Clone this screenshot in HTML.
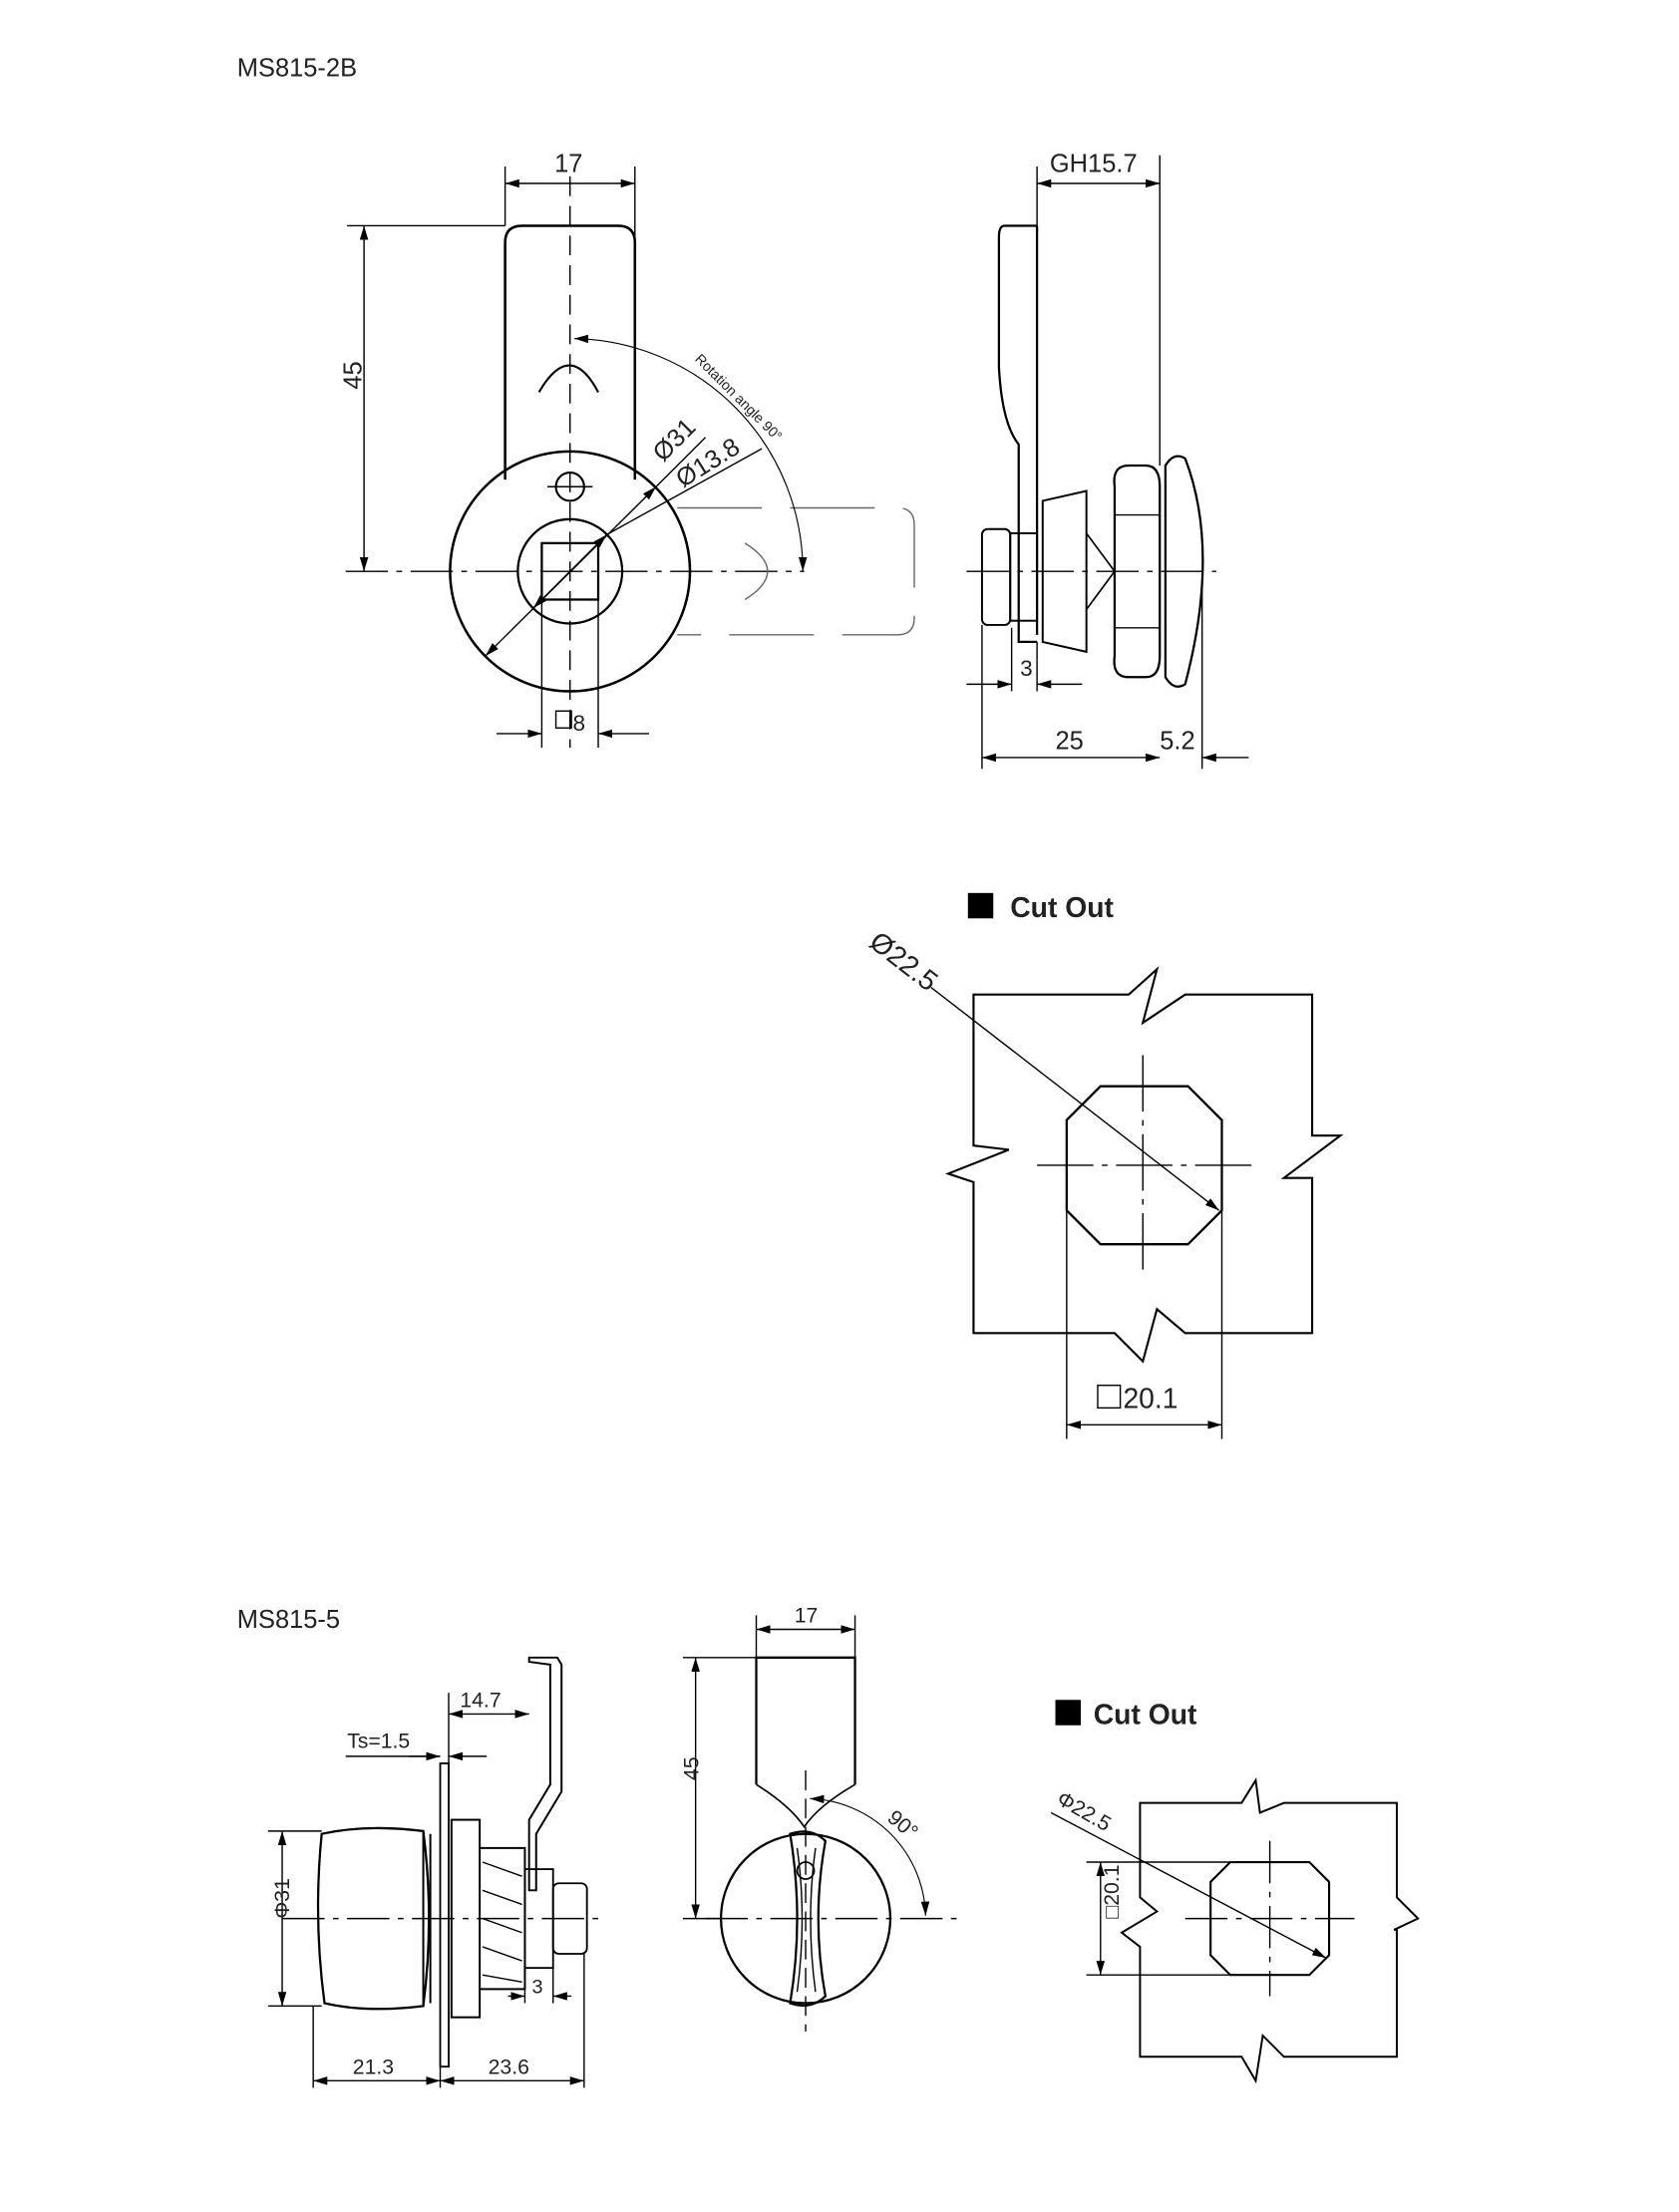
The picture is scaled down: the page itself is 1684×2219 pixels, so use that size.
<!DOCTYPE html>
<html><head><meta charset="utf-8"><style>
html,body{margin:0;padding:0;background:#fff}
svg{display:block}
text{font-family:"Liberation Sans",sans-serif;fill:#222}
</style></head><body>
<svg width="1684" height="2219" viewBox="0 0 1190 1568" xmlns="http://www.w3.org/2000/svg">
<defs>
<marker id="a" markerWidth="10" markerHeight="6" refX="10" refY="3" orient="auto-start-reverse" markerUnits="userSpaceOnUse"><path d="M0,0 L10,3 L0,6z" fill="#000"/></marker>
</defs>
<g fill="none" stroke="#000" stroke-width="1">
<path d="M358,340 V172 Q358,160 370,160 H438 Q450,160 450,172 V340" stroke-width="1.8"/>
<circle cx="404" cy="405" r="85" stroke-width="1.8"/>
<circle cx="404" cy="405" r="37" stroke-width="1.6"/>
<rect x="384" y="385" width="40" height="40" stroke-width="1.6"/>
<circle cx="404" cy="345" r="10" stroke-width="1.5"/>
<line x1="388" y1="345" x2="420" y2="345"/>
<path d="M382,278 Q404,240 424,278" stroke-width="1.5"/>
<line x1="404" y1="125" x2="404" y2="530" stroke-dasharray="14,7"/>
<line x1="245" y1="405" x2="570" y2="405" stroke-dasharray="30,6,4,6"/>
<path d="M480,360 H636 Q648,360 648,372 V438 Q648,450 636,450 H480" stroke="#666" stroke-dasharray="60,20"/>
<path d="M528,385 Q560,405 528,425" stroke="#666"/>
<path d="M407,240 A165,165 0 0 1 569,405" marker-start="url(#a)" marker-end="url(#a)" stroke-width="0.8"/>
<line x1="344" y1="465" x2="465" y2="345" marker-start="url(#a)" marker-end="url(#a)"/>
<line x1="465" y1="345" x2="500" y2="310"/>
<line x1="378" y1="431" x2="430" y2="379" marker-start="url(#a)" marker-end="url(#a)"/>
<line x1="430" y1="379" x2="540" y2="318"/>
<line x1="358" y1="118" x2="358" y2="160"/><line x1="450" y1="118" x2="450" y2="200"/>
<line x1="358" y1="130" x2="450" y2="130" marker-start="url(#a)" marker-end="url(#a)"/>
<line x1="246" y1="160" x2="358" y2="160"/>
<line x1="258" y1="160" x2="258" y2="405" marker-start="url(#a)" marker-end="url(#a)"/>
<line x1="384" y1="425" x2="384" y2="530"/><line x1="424" y1="425" x2="424" y2="530"/>
<line x1="352" y1="520" x2="384" y2="520" marker-end="url(#a)"/>
<line x1="460" y1="520" x2="424" y2="520" marker-end="url(#a)"/>
<path d="M735,160 V450 M735,160 H712 Q708,160 708,168 V260 Q710,300 722,315 V455 H735" stroke-width="1.6"/>
<rect x="716" y="378" width="19" height="62" stroke-width="1.4"/>
<rect x="696" y="375" width="20" height="68" rx="4" stroke-width="1.4"/>
<path d="M739,355 L770,348 V462 L739,455 Z" stroke-width="1.4"/>
<path d="M770,378 L790,405 L770,432" stroke-width="1.2"/>
<path d="M790,345 Q788,330 800,330 H812 Q822,330 822,345 V465 Q822,480 812,480 H800 Q788,480 790,465 Z" stroke-width="1.6"/>
<line x1="790" y1="365" x2="822" y2="365"/><line x1="790" y1="445" x2="822" y2="445"/>
<path d="M826,330 Q832,320 840,325 Q865,390 840,485 Q832,490 826,480 Z" stroke-width="1.6"/>
<line x1="685" y1="405" x2="862" y2="405" stroke-dasharray="30,6,4,6"/>
<line x1="735" y1="118" x2="735" y2="160"/><line x1="822" y1="110" x2="822" y2="330"/>
<line x1="735" y1="130" x2="822" y2="130" marker-start="url(#a)" marker-end="url(#a)"/>
<line x1="717" y1="445" x2="717" y2="490"/><line x1="735" y1="455" x2="735" y2="490"/>
<line x1="685" y1="485" x2="717" y2="485" marker-end="url(#a)"/>
<line x1="767" y1="485" x2="735" y2="485" marker-end="url(#a)"/>
<line x1="696" y1="443" x2="696" y2="545"/><line x1="852" y1="405" x2="852" y2="545"/>
<line x1="696" y1="537" x2="822" y2="537" marker-start="url(#a)" marker-end="url(#a)"/>
<line x1="885" y1="537" x2="852" y2="537" marker-end="url(#a)"/>
<path d="M690,705 H800 L820,687 L810,725 L840,705 H930 V805 L950,805 L910,835 L930,835 V945 H840 L820,928 L810,965 L790,945 H690 V838 L672,832 L715,815 L690,812 Z" stroke-width="1.5"/>
<path d="M780,770 H842 L866,794 V858 L842,882 H780 L756,858 V794 Z" stroke-width="1.6"/>
<line x1="735" y1="826" x2="888" y2="826" stroke-dasharray="40,6,4,6"/>
<line x1="810" y1="748" x2="810" y2="905" stroke-dasharray="40,6,4,6"/>
<line x1="660" y1="700" x2="864" y2="858" marker-end="url(#a)"/>
<line x1="756" y1="858" x2="756" y2="1020"/><line x1="866" y1="858" x2="866" y2="1020"/>
<line x1="756" y1="1010" x2="866" y2="1010" marker-start="url(#a)" marker-end="url(#a)"/>
<path d="M228,1300 Q222,1360 230,1420 Q260,1427 300,1422 Q308,1360 300,1298 Q260,1293 228,1300 Z" stroke-width="1.6"/>
<path d="M300,1298 V1422 M305,1300 V1420" stroke-width="1.4"/>
<rect x="312" y="1250" width="6" height="215" stroke-width="1.3"/>
<rect x="320" y="1290" width="20" height="140" stroke-width="1.4"/>
<path d="M340,1310 H372 V1410 H340" stroke-width="1.4"/>
<path d="M342,1320 L370,1330 M342,1340 L370,1350 M342,1360 L370,1370 M342,1380 L370,1390 M342,1400 L370,1405"/>
<rect x="372" y="1325" width="20" height="70" stroke-width="1.3"/>
<rect x="392" y="1335" width="24" height="50" rx="4" stroke-width="1.3"/>
<path d="M375,1175 H395 L398,1180 V1270 L380,1300 V1340 L375,1340 V1290 L390,1265 V1180 L375,1178 Z" stroke-width="1.4"/>
<line x1="200" y1="1360" x2="430" y2="1360" stroke-dasharray="30,6,4,6"/>
<line x1="190" y1="1298" x2="228" y2="1298"/><line x1="190" y1="1422" x2="228" y2="1422"/>
<line x1="200" y1="1298" x2="200" y2="1422" marker-start="url(#a)" marker-end="url(#a)"/>
<line x1="222" y1="1422" x2="222" y2="1480"/><line x1="312" y1="1465" x2="312" y2="1480"/><line x1="414" y1="1385" x2="414" y2="1480"/>
<line x1="222" y1="1475" x2="312" y2="1475" marker-start="url(#a)" marker-end="url(#a)"/>
<line x1="312" y1="1475" x2="414" y2="1475" marker-start="url(#a)" marker-end="url(#a)"/>
<line x1="318" y1="1200" x2="318" y2="1250"/>
<line x1="318" y1="1215" x2="375" y2="1215" marker-start="url(#a)" marker-end="url(#a)"/>
<line x1="290" y1="1245" x2="312" y2="1245" marker-end="url(#a)"/>
<line x1="245" y1="1245" x2="312" y2="1245"/>
<line x1="345" y1="1245" x2="318" y2="1245" marker-end="url(#a)"/>
<line x1="372" y1="1395" x2="372" y2="1420"/><line x1="392" y1="1395" x2="392" y2="1420"/>
<line x1="360" y1="1415" x2="372" y2="1415" marker-end="url(#a)"/>
<line x1="405" y1="1415" x2="392" y2="1415" marker-end="url(#a)"/>
<path d="M536,1265 V1175 H606 V1265" stroke-width="1.6"/>
<path d="M536,1265 Q560,1280 570,1295 Q580,1280 606,1265" stroke-width="1.2"/>
<circle cx="571" cy="1360" r="60" stroke-width="1.6"/>
<path d="M560,1300 Q575,1295 585,1305 Q575,1360 585,1415 Q575,1425 560,1420 Q570,1360 560,1300 Z" stroke-width="1.6"/>
<path d="M565,1310 Q572,1360 565,1412 M578,1310 Q571,1360 578,1412" stroke-width="1"/>
<circle cx="571" cy="1326" r="6" stroke-width="1.3"/>
<line x1="571" y1="1255" x2="571" y2="1440" stroke-dasharray="14,6"/>
<line x1="500" y1="1360" x2="680" y2="1360" stroke-dasharray="30,6,4,6"/>
<path d="M574,1275 A85,85 0 0 1 656,1358" marker-start="url(#a)" marker-end="url(#a)" stroke-width="0.8"/>
<line x1="536" y1="1145" x2="536" y2="1175"/><line x1="606" y1="1145" x2="606" y2="1175"/>
<line x1="536" y1="1155" x2="606" y2="1155" marker-start="url(#a)" marker-end="url(#a)"/>
<line x1="484" y1="1175" x2="536" y2="1175"/><line x1="484" y1="1360" x2="511" y2="1360"/>
<line x1="493" y1="1175" x2="493" y2="1360" marker-start="url(#a)" marker-end="url(#a)"/>
<path d="M808,1278 H880 L890,1262 L893,1285 L910,1278 H990 V1345 L1005,1360 L988,1368 H990 V1458 H910 L895,1443 L890,1475 L880,1458 H808 V1380 L795,1370 L820,1355 L808,1345 Z" stroke-width="1.4"/>
<path d="M872,1320 H928 L942,1334 V1386 L928,1400 H872 L858,1386 V1334 Z" stroke-width="1.5"/>
<line x1="840" y1="1360" x2="960" y2="1360" stroke-dasharray="30,6,4,6"/>
<line x1="900" y1="1305" x2="900" y2="1415" stroke-dasharray="30,6,4,6"/>
<line x1="745" y1="1285" x2="940" y2="1388" marker-end="url(#a)"/>
<line x1="770" y1="1320" x2="872" y2="1320"/><line x1="770" y1="1400" x2="872" y2="1400"/>
<line x1="780" y1="1320" x2="780" y2="1400" marker-start="url(#a)" marker-end="url(#a)"/>
</g>
<rect x="686" y="633" width="18" height="18" fill="#000"/>
<rect x="748" y="1205" width="18" height="18" fill="#000"/>
<rect x="394" y="504" width="11" height="12" fill="none" stroke="#000"/>
<rect x="778" y="982" width="16" height="16" fill="none" stroke="#000"/>
<g font-size="18">
<text x="168" y="54">MS815-2B</text>
<text x="393" y="122">17</text>
<text x="242" y="290" transform="rotate(-90 242 276)">45</text>
<text x="744" y="122">GH15.7</text>
<text x="723" y="479" font-size="16">3</text>
<text x="748" y="531">25</text>
<text x="822" y="531">5.2</text>
<text x="406" y="518" font-size="16">8</text>
<text x="470" y="328" transform="rotate(-45 470 328)">Ø31</text>
<text x="484" y="346" transform="rotate(-32 484 346)">Ø13.8</text>
<text x="716" y="650" font-weight="bold" font-size="20">Cut Out</text>
<text x="615" y="670" font-size="20" transform="rotate(38 615 670)">Ø22.5</text>
<text x="796" y="998" font-size="20">20.1</text>
<text x="168" y="1154">MS815-5</text>
<text x="775" y="1222" font-weight="bold" font-size="20">Cut Out</text>
<text x="563" y="1150" font-size="15">17</text>
<text x="487" y="1270" font-size="15" transform="rotate(-90 487 1262)">45</text>
<text x="628" y="1290" font-size="15" transform="rotate(40 628 1290)">90°</text>
<text x="492" y="255" font-size="10" transform="rotate(45 492 255)">Rotation angle 90°</text>
<text x="326" y="1210" font-size="15">14.7</text>
<text x="246" y="1239" font-size="15">Ts=1.5</text>
<text x="190" y="1375" font-size="15" transform="rotate(-90 190 1360)">Φ31</text>
<text x="377" y="1413" font-size="14">3</text>
<text x="250" y="1470" font-size="15">21.3</text>
<text x="346" y="1470" font-size="15">23.6</text>
<text x="748" y="1278" font-size="15" transform="rotate(30 748 1278)">Φ22.5</text>
<text x="773" y="1380" font-size="15" transform="rotate(-90 773 1360)">□20.1</text>
</g>
</svg>
</body></html>
